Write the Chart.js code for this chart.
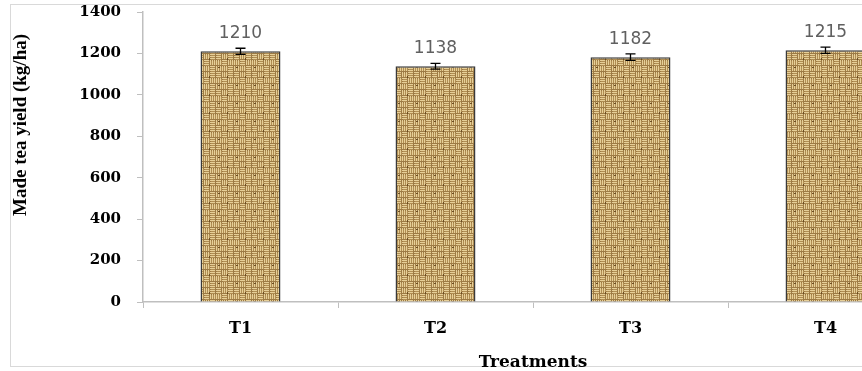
<!DOCTYPE html>
<html>
<head>
<meta charset="utf-8">
<script src="https://cdn.jsdelivr.net/npm/chart.js@4.4.1/dist/chart.umd.min.js"></script>
<style>
  html, body { margin: 0; padding: 0; background: #fff; overflow: hidden; }
  #wrap { width: 862px; height: 371px; overflow: hidden; position: relative; }
  #wrap canvas { position: absolute; left: 0; top: 0; }
</style>
</head>
<body>
<div id="wrap"><canvas id="myChart"></canvas></div>
<script>
/** Data */
let categories = ["T1", "T2", "T3", "T4"];
let yieldValues = [1210, 1138, 1182, 1215];
let errorValues = [15, 14, 16, 15];
let yTitle = "Made tea yield (kg/ha)";
let xTitle = "Treatments";

/** Woven fill for the bars (basket weave, 3x3 blocks) */
function makeWeave() {
  const s = 6;
  const dirs = [
    [1, 0, 1],
    [0, 1, 0],
    [0, 0, 1],
  ];
  const p = document.createElement("canvas");
  p.width = s * 3;
  p.height = s * 3;
  const c = p.getContext("2d");
  c.fillStyle = "#9c7a44";
  c.fillRect(0, 0, p.width, p.height);
  for (let by = 0; by < 3; by++) {
    for (let bx = 0; bx < 3; bx++) {
      const ox = bx * s, oy = by * s;
      const horiz = dirs[by][bx] === 1;
      for (let k = 0; k < 3; k++) {
        c.fillStyle = "#e6cf98";
        if (horiz) c.fillRect(ox, oy + k * 2, s - 1, 1);
        else c.fillRect(ox + k * 2, oy, 1, s - 1);
        c.fillStyle = "#b08d52";
        if (horiz) c.fillRect(ox + 1, oy + k * 2 + 1, s - 2, 1);
        else c.fillRect(ox + k * 2 + 1, oy + 1, 1, s - 2);
      }
    }
  }
  c.fillStyle = "#6a4c22";
  c.fillRect(2, 13, 2, 1);
  c.fillRect(11, 4, 1, 2);
  return c.createPattern(p, "repeat");
}

const canvas = document.getElementById("myChart");
canvas.width = 925;
canvas.height = 385;
canvas.style.width = "925px";
canvas.style.height = "385px";
const ctx = canvas.getContext("2d");
const weave = makeWeave();

// light frame + y title
const framePlugin = {
  id: "frame",
  beforeDraw(chart) {
    const c = chart.ctx;
    c.save();
    c.strokeStyle = "#d9d9d9";
    c.lineWidth = 1;
    c.strokeRect(10.5, 4.5, 1000, 362);
    c.translate(21, 125);
    c.rotate(-Math.PI / 2);
    c.fillStyle = "#000";
    c.font = "bold 19px 'Liberation Serif'";
    c.textAlign = "center";
    c.textBaseline = "middle";
    c.fillText(yTitle, 0, 0);
    c.restore();
  },
};

// error bars + value labels
const errorPlugin = {
  id: "errors",
  afterDatasetsDraw(chart) {
    const c = chart.ctx;
    const y = chart.scales.y;
    const meta = chart.getDatasetMeta(0);
    c.save();
    meta.data.forEach((bar, i) => {
      const v = yieldValues[i];
      const e = errorValues[i];
      const top = y.getPixelForValue(v + e);
      const bot = y.getPixelForValue(v - e);
      c.strokeStyle = "#000";
      c.lineWidth = 1.3;
      c.beginPath();
      c.moveTo(bar.x, top);
      c.lineTo(bar.x, bot);
      c.moveTo(bar.x - 5, top);
      c.lineTo(bar.x + 5, top);
      c.moveTo(bar.x - 5, bot);
      c.lineTo(bar.x + 5, bot);
      c.stroke();
      c.fillStyle = "#606060";
      c.font = "17px 'DejaVu Sans'";
      c.textAlign = "center";
      c.textBaseline = "bottom";
      c.fillText(String(v), bar.x, top - 6);
    });
    c.restore();
  },
};

const serifBold = { family: "'DejaVu Serif'", weight: "bold" };

let chart1 = new Chart(ctx, {
  type: "bar",
  data: {
    labels: categories,
    datasets: [
      {
        data: yieldValues,
        backgroundColor: weave,
        borderColor: "#3a3a3a",
        borderWidth: 1.5,
        categoryPercentage: 1.0,
        barPercentage: 0.41,
      },
    ],
  },
  options: {
    responsive: false,
    animation: false,
    layout: { padding: { top: 0, left: 10, right: 2, bottom: 0 } },
    plugins: {
      legend: { display: false },
      tooltip: { enabled: false },
    },
    scales: {
      x: {
        grid: { drawOnChartArea: false, color: "#bfbfbf", tickLength: 6 },
        border: { color: "#bfbfbf", width: 1.5 },
        ticks: {
          color: "#000",
          padding: 11,
          font: { ...serifBold, size: 16 },
        },
        title: {
          display: true,
          text: xTitle,
          color: "#000",
          font: { ...serifBold, size: 17 },
          padding: { top: 0, bottom: 12 },
        },
        afterFit(scale) {
          scale.height = 83;
        },
      },
      y: {
        min: 0,
        max: 1400,
        grid: { drawOnChartArea: false, color: "#bfbfbf", tickLength: 6 },
        border: { color: "#bfbfbf", width: 1.5 },
        ticks: {
          stepSize: 200,
          color: "#000",
          padding: 16,
          font: { ...serifBold, size: 15 },
          callback: (v) => String(v),
        },
        afterFit(scale) {
          scale.width = 133;
          scale.paddingTop = 12;
          scale.paddingBottom = 0;
        },
      },
    },
  },
  plugins: [framePlugin, errorPlugin],
});
</script>
</body>
</html>
